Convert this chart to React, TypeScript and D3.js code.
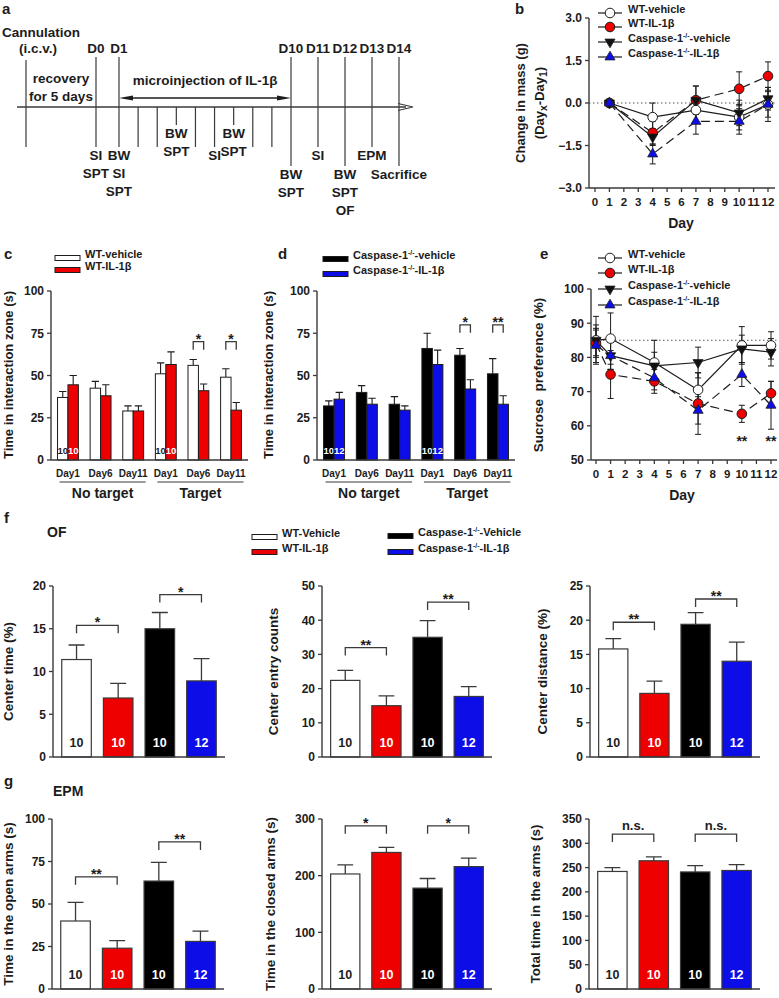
import React from "react";
import * as d3 from "d3";

const FONT = '"Liberation Sans", Arial, Helvetica, sans-serif';
const INK = "#1c1c1c";
const AXIS = "#3a3a3a";
const RED = "#ee0000";
const BLUE = "#0d0de8";

// ---- a: experimental timeline
const timelineDays = [-5, 0, 1, 2, 3, 4, 5, 6, 7, 8, 9, 10, 11, 12, 13, 14];
const dayTitleDays = [0, 1, 10, 11, 12, 13, 14];
const eventDays = [0, 1, 4, 6, 7, 10, 11, 12, 13, 14];
const eventLabels = [
  ["SI", "SPT"], ["BW", "SI", "SPT"], ["BW", "SPT"], ["SI"], ["BW", "SPT"],
  ["BW", "SPT"], ["SI"], ["BW", "SPT", "OF"], ["EPM"], ["Sacrifice"],
];
const eventRows = [1, 1, 0, 1, 0, 2, 1, 2, 1, 2];

// ---- b: change in body mass
const massDays = [1, 4, 7, 10, 12];
const massWtVeh = [0, -0.5, -0.25, -0.5, -0.05];
const massWtVehErr = [0, 0.5, 0.4, 0.45, 0.45];
const massWtIl = [0, -1.05, 0.1, 0.5, 0.95];
const massWtIlErr = [0, 0.4, 0.5, 0.6, 0.5];
const massCaspVeh = [0, -1.2, 0.1, -0.35, 0.15];
const massCaspVehErr = [0, 0.3, 0.5, 0.45, 0.4];
const massCaspIl = [0, -1.8, -0.65, -0.65, -0.05];
const massCaspIlErr = [0, 0.35, 0.45, 0.45, 0.6];

// ---- c / d: social interaction
const siDays = ["Day1", "Day6", "Day11", "Day1", "Day6", "Day11"];
const siConditions = ["No target", "Target"];
const siWtVeh = [37, 42.5, 29, 51, 56, 49];
const siWtVehErr = [3.5, 4, 3, 6.5, 3.5, 5];
const siWtIl = [44.5, 38, 29, 56.5, 41, 29.5];
const siWtIlErr = [5.5, 6.5, 3, 7.5, 4, 4.5];
const siCaspVeh = [32, 40, 33, 66, 62, 51];
const siCaspVehErr = [3, 4, 4.5, 9, 4, 9];
const siCaspIl = [36, 33, 29.5, 56.5, 42, 33];
const siCaspIlErr = [4, 3.5, 2.5, 8.5, 5.5, 5];

// ---- e: sucrose preference
const spDays = [0, 1, 4, 7, 10, 12];
const spWtVeh = [85, 85.5, 78.5, 70.5, 83.5, 83.5];
const spWtVehErr = [4.5, 7.5, 6.5, 5, 5.5, 4];
const spWtIl = [84, 75, 73, 66.5, 63.5, 69.5];
const spWtIlErr = [4, 7, 3.5, 9, 2.5, 3.5];
const spCaspVeh = [85, 80.5, 77.5, 78.5, 82.5, 81.5];
const spCaspVehErr = [7, 4, 4, 4.5, 4, 4];
const spCaspIl = [83.5, 80.5, 74, 64.5, 75, 66];
const spCaspIlErr = [5, 4, 3.5, 4, 3.5, 7];

// ---- f / g: open field and elevated plus maze
const groups = ["WT-Vehicle", "WT-IL-1β", "Caspase-1^-/-^-Vehicle", "Caspase-1^-/-^-IL-1β"];
const groupN = ["10", "10", "10", "12"];
const ofCenterTime = [11.4, 6.9, 15.0, 8.9];
const ofCenterTimeErr = [1.7, 1.7, 1.9, 2.6];
const ofEntries = [22.4, 15.0, 35.0, 17.7];
const ofEntriesErr = [2.9, 2.9, 4.9, 2.9];
const ofDistance = [15.8, 9.3, 19.4, 14.0];
const ofDistanceErr = [1.5, 1.8, 1.7, 2.8];
const epmOpen = [40, 24, 63.5, 28];
const epmOpenErr = [11, 4.5, 11, 6];
const epmClosed = [203, 241, 178, 216];
const epmClosedErr = [16, 9, 17, 15];
const epmTotal = [242, 264, 241, 244];
const epmTotalErr = [8, 8, 13, 12];

const groupFill = ["#ffffff", RED, "#000000", BLUE];
const groupText = [INK, "#ffffff", "#ffffff", "#ffffff"];

// text with ^superscript^ and ~subscript~ parts
function Rich({ text, size }: { text: string; size: number }) {
  const parts = text.split(/(\^[^^]*\^|~[^~]*~)/).filter((p) => p !== "");
  let shift = 0;
  return (
    <>
      {parts.map((p, i) => {
        let target = 0;
        let fs = size;
        let content = p;
        if (p.startsWith("^")) {
          target = -size * 0.4;
          fs = size * 0.62;
          content = p.slice(1, -1);
        } else if (p.startsWith("~")) {
          target = size * 0.2;
          fs = size * 0.8;
          content = p.slice(1, -1);
        }
        const dy = target - shift;
        shift = target;
        return (
          <tspan key={i} dy={dy} fontSize={fs}>
            {content}
          </tspan>
        );
      })}
    </>
  );
}

function YTitle({ x, y, text, size }: { x: number; y: number; text: string; size: number }) {
  return (
    <text transform={`translate(${x},${y}) rotate(-90)`} textAnchor="middle" fontSize={size} dy="0.35em">
      <Rich text={text} size={size} />
    </text>
  );
}

function YAxis({ x, y, ticks, fmt, size = 12 }: any) {
  const [bottom, top] = y.range();
  return (
    <g>
      <line x1={x} x2={x} y1={top} y2={bottom} stroke={AXIS} strokeWidth={1.4} />
      {ticks.map((t: number) => (
        <g key={t}>
          <line x1={x - 4} x2={x} y1={y(t)} y2={y(t)} stroke={AXIS} strokeWidth={1.3} />
          <text x={x - 7} y={y(t)} dy="0.36em" textAnchor="end" fontSize={size}>
            {fmt(t)}
          </text>
        </g>
      ))}
    </g>
  );
}

function Bracket({ x1, x2, y, label }: { x1: number; x2: number; y: number; label: string }) {
  const ns = label === "n.s.";
  return (
    <g>
      <path d={`M${x1},${y + 8}V${y}H${x2}V${y + 8}`} fill="none" stroke={AXIS} strokeWidth={1.3} />
      <text x={(x1 + x2) / 2} y={ns ? y - 4 : y + 2} textAnchor="middle" fontSize={ns ? 13 : 14}>
        {label}
      </text>
    </g>
  );
}

function Timeline() {
  const x = d3.scaleLinear().domain([-5, 0, 1, 10, 14]).range([26, 96, 119, 291, 399]);
  const rowTop = [133, 155, 174];
  const rowTickEnd = [125, 147, 166];
  const axisY = 107;
  return (
    <g fontSize={13.5}>
      <text x={2} y={14} fontSize={15}>a</text>
      <text x={2} y={37}>Cannulation</text>
      <text x={x(-5) + 12} y={53} textAnchor="middle">(i.c.v.)</text>
      {dayTitleDays.map((d) => (
        <text key={d} x={x(d)} y={53} textAnchor="middle">{`D${d}`}</text>
      ))}
      <text x={(x(-5) + x(0)) / 2} y={83} textAnchor="middle">recovery</text>
      <text x={(x(-5) + x(0)) / 2} y={101} textAnchor="middle">for 5 days</text>
      <text x={(x(1) + x(10)) / 2} y={85} textAnchor="middle">microinjection of IL-1β</text>
      <line x1={x(1) + 8} x2={x(10) - 8} y1={98} y2={98} stroke={INK} strokeWidth={1.3} />
      <path d={`M${x(1)},98L${x(1) + 14},95.5L${x(1) + 14},100.5Z`} fill={INK} />
      <path d={`M${x(10)},98L${x(10) - 14},95.5L${x(10) - 14},100.5Z`} fill={INK} />
      <line x1={17} x2={406} y1={axisY} y2={axisY} stroke={AXIS} strokeWidth={1.3} />
      <path d={`M398,103.5L413,${axisY}L398,110.5`} fill="none" stroke={AXIS} strokeWidth={1.2} />
      {timelineDays.map((d) => {
        const ev = eventDays.indexOf(d);
        const top = dayTitleDays.includes(d) ? 57 : d === timelineDays[0] ? 60 : axisY;
        const bottom = ev >= 0 ? rowTickEnd[eventRows[ev]] : 147;
        return <line key={d} x1={x(d)} x2={x(d)} y1={top} y2={bottom} stroke={AXIS} strokeWidth={1.2} />;
      })}
      {eventDays.map((d, i) =>
        eventLabels[i].map((t, j) => (
          <text key={`${d}-${j}`} x={x(d)} y={rowTop[eventRows[i]] + j * 18} dy="0.36em" textAnchor="middle">
            {t}
          </text>
        ))
      )}
    </g>
  );
}

function Marker({ kind, x, y }: { kind: string; x: number; y: number }) {
  if (kind === "open" || kind === "red")
    return <circle cx={x} cy={y} r={4.8} fill={kind === "open" ? "#fff" : RED} stroke={INK} strokeWidth={1} />;
  const p = d3.symbol(d3.symbolTriangle, 44)() as string;
  return (
    <path
      d={p}
      transform={`translate(${x},${y})${kind === "down" ? " rotate(180)" : ""}`}
      fill={kind === "down" ? "#111" : BLUE}
      stroke={INK}
      strokeWidth={0.8}
    />
  );
}

function LinePanel({ x, y, axisX, axisEnd, yTicks, yFmt, refValue, series, legendYs, stars }: any) {
  const axisY = y.range()[0];
  const line = d3.line<[number, number]>().x((d) => x(d[0])).y((d) => y(d[1]));
  return (
    <g>
      <line x1={axisX} x2={axisEnd} y1={y(refValue)} y2={y(refValue)} stroke="#555" strokeWidth={1.1} strokeDasharray="1.5,2.5" />
      {series.map((s: any) =>
        s.days.map((d: number, i: number) => {
          const e = s.errs[i];
          if (!e) return null;
          const cx = x(d);
          return (
            <path
              key={`${s.name}-${d}`}
              d={`M${cx - 3},${y(s.values[i] + e)}H${cx + 3}M${cx},${y(s.values[i] + e)}V${y(s.values[i] - e)}M${cx - 3},${y(s.values[i] - e)}H${cx + 3}`}
              stroke={INK}
              strokeWidth={1}
              fill="none"
            />
          );
        })
      )}
      {series.map((s: any) => (
        <path
          key={s.name}
          d={line(s.days.map((d: number, i: number) => [d, s.values[i]])) as string}
          fill="none"
          stroke={INK}
          strokeWidth={1.2}
          strokeDasharray={s.dashed ? "9,5" : undefined}
        />
      ))}
      {series.map((s: any) =>
        s.days.map((d: number, i: number) => <Marker key={`${s.name}-m${d}`} kind={s.marker} x={x(d)} y={y(s.values[i])} />)
      )}
      {stars.map((st: any) => (
        <text key={st.day} x={x(st.day)} y={st.y} textAnchor="middle" fontSize={14}>
          {st.label}
        </text>
      ))}
      <YAxis x={axisX} y={y} ticks={yTicks} fmt={yFmt} />
      <line x1={axisX} x2={axisEnd} y1={axisY} y2={axisY} stroke={AXIS} strokeWidth={1.4} />
      {x.ticks(12).map((t: number) => (
        <g key={t}>
          <line x1={x(t)} x2={x(t)} y1={axisY} y2={axisY + 4} stroke={AXIS} strokeWidth={1.3} />
          <text x={x(t)} y={axisY + 18} textAnchor="middle" fontSize={11.5}>
            {t}
          </text>
        </g>
      ))}
      {series.map((s: any, i: number) => (
        <g key={`leg-${s.name}`}>
          <line x1={598} x2={622} y1={legendYs[i]} y2={legendYs[i]} stroke={INK} strokeWidth={1.2} />
          <Marker kind={s.marker} x={610} y={legendYs[i]} />
          <text x={628} y={legendYs[i]} dy="0.36em" fontSize={11}>
            <Rich text={s.name} size={11} />
          </text>
        </g>
      ))}
    </g>
  );
}

function makeSeries(names: string[], days: number[], vals: number[][], errs: number[][]) {
  const markers = ["open", "red", "down", "up"];
  return names.map((name, i) => ({ name, days, values: vals[i], errs: errs[i], marker: markers[i], dashed: i % 2 === 1 }));
}

const lineNames = ["WT-vehicle", "WT-IL-1β", "Caspase-1^-/-^-vehicle", "Caspase-1^-/-^-IL-1β"];

function GroupBarPanel({ axisX, axisEnd, names, fills, a, aErr, b, bErr, counts, sig, sigAt, legendX, legendYs, title, titleX }: any) {
  const y = d3.scaleLinear().domain([0, 100]).range([460, 291]);
  const keys = siDays.map((d, i) => `${i}-${d}`);
  const x0 = d3.scaleBand().domain(keys).range([axisX, axisEnd]).paddingInner(0.36).paddingOuter(0.2);
  const x1 = d3.scaleBand().domain(["a", "b"]).range([0, x0.bandwidth()]);
  const bw = x1.bandwidth();
  const series = [
    { id: "a", v: a, e: aErr, fill: fills[0], text: fills[0] === "#ffffff" ? INK : "#fff" },
    { id: "b", v: b, e: bErr, fill: fills[1], text: "#fff" },
  ];
  return (
    <g>
      {names.map((n: string, i: number) => (
        <g key={n}>
          <rect x={legendX} y={legendYs[i] - 2.5} width={25} height={5} fill={fills[i]} stroke={INK} strokeWidth={1} />
          <text x={legendX + 30} y={legendYs[i]} dy="0.36em" fontSize={11}>
            <Rich text={n} size={11} />
          </text>
        </g>
      ))}
      {keys.map((k, gi) =>
        series.map((s) => {
          const bx = (x0(k) as number) + (x1(s.id) as number);
          const top = y(s.v[gi]);
          const et = y(s.v[gi] + s.e[gi]);
          const cx = bx + bw / 2;
          return (
            <g key={`${k}-${s.id}`}>
              <path d={`M${cx},${top}V${et}M${cx - bw * 0.35},${et}H${cx + bw * 0.35}`} stroke={INK} strokeWidth={1.1} />
              <rect x={bx} y={top} width={bw} height={460 - top} fill={s.fill} stroke={INK} strokeWidth={1} />
              {counts[gi] && (
                <text x={cx} y={454} textAnchor="middle" fontSize={9.5} fill={s.text}>
                  {counts[gi][s.id === "a" ? 0 : 1]}
                </text>
              )}
            </g>
          );
        })
      )}
      {sig.map((lab: string, gi: number) =>
        lab ? (
          <Bracket
            key={gi}
            x1={(x0(keys[gi]) as number) + bw / 2}
            x2={(x0(keys[gi]) as number) + bw * 1.5}
            y={y(sigAt)}
            label={lab}
          />
        ) : null
      )}
      <YAxis x={axisX} y={y} ticks={[0, 25, 50, 75, 100]} fmt={(t: number) => String(t)} />
      <line x1={axisX} x2={axisEnd} y1={460} y2={460} stroke={AXIS} strokeWidth={1.4} />
      {keys.map((k, i) => (
        <text key={k} x={(x0(k) as number) + x0.bandwidth() / 2} y={477} textAnchor="middle" fontSize={10}>
          {siDays[i]}
        </text>
      ))}
      {siConditions.map((c, ci) => {
        const first = x0(keys[ci * 3]) as number;
        const last = (x0(keys[ci * 3 + 2]) as number) + x0.bandwidth();
        return (
          <g key={c}>
            <line x1={first + 2} x2={last + 2} y1={482} y2={482} stroke={AXIS} strokeWidth={1.2} />
            <text x={(first + last) / 2 + 2} y={498} textAnchor="middle" fontSize={14}>
              {c}
            </text>
          </g>
        );
      })}
      <YTitle x={titleX} y={375} text={title} size={13} />
    </g>
  );
}

function BarPanel({ axisX, axisEnd, top, bottom, max, ticks, values, errs, sig, sigAt, title, titleX }: any) {
  const x = d3.scaleBand().domain(groups).range([axisX, axisEnd]).paddingInner(0.29).paddingOuter(0.21);
  const y = d3.scaleLinear().domain([0, max]).range([bottom, top]);
  const bw = x.bandwidth();
  return (
    <g>
      {groups.map((g, i) => {
        const bx = x(g) as number;
        const cx = bx + bw / 2;
        const yt = y(values[i]);
        const ye = y(values[i] + errs[i]);
        return (
          <g key={g}>
            <path d={`M${cx},${yt}V${ye}M${cx - bw * 0.27},${ye}H${cx + bw * 0.27}`} stroke={AXIS} strokeWidth={1.3} />
            <rect x={bx} y={yt} width={bw} height={bottom - yt} fill={groupFill[i]} stroke={AXIS} strokeWidth={1.2} />
            <text x={cx} y={bottom - 10} textAnchor="middle" fontSize={12.5} fill={groupText[i]}>
              {groupN[i]}
            </text>
          </g>
        );
      })}
      {[0, 1].map((p) => {
        const c1 = (x(groups[p * 2]) as number) + bw / 2;
        const c2 = (x(groups[p * 2 + 1]) as number) + bw / 2;
        return <Bracket key={p} x1={c1} x2={c2} y={y(sigAt[p])} label={sig[p]} />;
      })}
      <YAxis x={axisX} y={y} ticks={ticks} fmt={(t: number) => String(t)} />
      <line x1={axisX} x2={axisEnd} y1={bottom} y2={bottom} stroke={AXIS} strokeWidth={1.4} />
      <YTitle x={titleX} y={(top + bottom) / 2} text={title} size={13.5} />
    </g>
  );
}

export default function App() {
  const bx = d3.scaleLinear().domain([0, 12]).range([595, 768]);
  const by = d3.scaleLinear().domain([-3, 3]).range([188, 18]);
  const ex = d3.scaleLinear().domain([0, 12]).range([596, 771]);
  const ey = d3.scaleLinear().domain([50, 100]).range([460, 289]);
  const massSeries = makeSeries(
    lineNames,
    massDays,
    [massWtVeh, massWtIl, massCaspVeh, massCaspIl],
    [massWtVehErr, massWtIlErr, massCaspVehErr, massCaspIlErr]
  );
  const spSeries = makeSeries(
    lineNames,
    spDays,
    [spWtVeh, spWtIl, spCaspVeh, spCaspIl],
    [spWtVehErr, spWtIlErr, spCaspVehErr, spCaspIlErr]
  );
  return (
    <svg
      width={779}
      height={998}
      style={{ position: "absolute", left: 0, top: 0, background: "#fff" }}
      fontFamily={FONT}
      fontWeight="bold"
      fill={INK}
    >
      <Timeline />

      {/* b */}
      <text x={515} y={14} fontSize={15}>b</text>
      <YTitle x={525} y={103} text="Change in mass (g)" size={13} />
      <YTitle x={544} y={103} text="(Day~x~-Day~1~)" size={13} />
      <LinePanel
        x={bx}
        y={by}
        axisX={589}
        axisEnd={775}
        yTicks={[-3, -1.5, 0, 1.5, 3]}
        yFmt={d3.format(".1f")}
        refValue={0}
        series={massSeries}
        legendYs={[13, 27, 42, 57]}
        stars={[]}
      />
      <text x={681} y={228} textAnchor="middle" fontSize={14}>Day</text>

      {/* c */}
      <text x={4} y={259} fontSize={15}>c</text>
      <GroupBarPanel
        axisX={51}
        axisEnd={248}
        names={["WT-vehicle", "WT-IL-1β"]}
        fills={["#ffffff", RED]}
        a={siWtVeh}
        aErr={siWtVehErr}
        b={siWtIl}
        bErr={siWtIlErr}
        counts={[["10", "10"], null, null, ["10", "10"], null, null]}
        sig={["", "", "", "", "*", "*"]}
        sigAt={70}
        legendX={55}
        legendYs={[258, 270]}
        title="Time in interaction zone (s)"
        titleX={13}
      />

      {/* d */}
      <text x={278} y={259} fontSize={15}>d</text>
      <GroupBarPanel
        axisX={317}
        axisEnd={515}
        names={["Caspase-1^-/-^-vehicle", "Caspase-1^-/-^-IL-1β"]}
        fills={["#000000", BLUE]}
        a={siCaspVeh}
        aErr={siCaspVehErr}
        b={siCaspIl}
        bErr={siCaspIlErr}
        counts={[["10", "12"], null, null, ["10", "12"], null, null]}
        sig={["", "", "", "", "*", "**"]}
        sigAt={80}
        legendX={323}
        legendYs={[259, 274]}
        title="Time in interaction zone (s)"
        titleX={273}
      />

      {/* e */}
      <text x={540} y={259} fontSize={15}>e</text>
      <LinePanel
        x={ex}
        y={ey}
        axisX={591}
        axisEnd={777}
        yTicks={[50, 60, 70, 80, 90, 100]}
        yFmt={(t: number) => String(t)}
        refValue={85}
        series={spSeries}
        legendYs={[258, 273, 289, 305]}
        stars={[
          { day: 10, y: 446, label: "**" },
          { day: 12, y: 446, label: "**" },
        ]}
      />
      <text x={682} y={500} textAnchor="middle" fontSize={14}>Day</text>
      <YTitle x={543} y={375} text={"Sucrose\u00a0 preference (%)"} size={13.5} />

      {/* f legend */}
      <text x={4} y={523} fontSize={15}>f</text>
      <text x={47} y={537} fontSize={14}>OF</text>
      {groups.map((g, i) => {
        const lx = i < 2 ? 252 : 388;
        const ly = i % 2 === 0 ? (i < 2 ? 537 : 536) : 552;
        return (
          <g key={g}>
            <rect x={lx} y={ly - 2.5} width={25} height={5} fill={groupFill[i]} stroke={INK} strokeWidth={1} />
            <text x={lx + 30} y={ly} dy="0.36em" fontSize={11}>
              <Rich text={g} size={11} />
            </text>
          </g>
        );
      })}

      <BarPanel axisX={53} axisEnd={225} top={586} bottom={757} max={20} ticks={[0, 5, 10, 15, 20]}
        values={ofCenterTime} errs={ofCenterTimeErr} sig={["*", "*"]} sigAt={[15.4, 19]} title="Center time (%)" titleX={13} />
      <BarPanel axisX={322} axisEnd={492} top={586} bottom={757} max={50} ticks={[0, 10, 20, 30, 40, 50]}
        values={ofEntries} errs={ofEntriesErr} sig={["**", "**"]} sigAt={[32, 45.3]} title="Center entry counts" titleX={278} />
      <BarPanel axisX={590} axisEnd={760} top={586} bottom={757} max={25} ticks={[0, 5, 10, 15, 20, 25]}
        values={ofDistance} errs={ofDistanceErr} sig={["**", "**"]} sigAt={[19.7, 23.1]} title="Center distance (%)" titleX={547} />

      {/* g */}
      <text x={4} y={786} fontSize={15}>g</text>
      <text x={53} y={796} fontSize={14}>EPM</text>
      <BarPanel axisX={52} axisEnd={224} top={819} bottom={989} max={100} ticks={[0, 25, 50, 75, 100]}
        values={epmOpen} errs={epmOpenErr} sig={["**", "**"]} sigAt={[66, 86.5]} title="Time in the open arms (s)" titleX={13} />
      <BarPanel axisX={322} axisEnd={492} top={819} bottom={989} max={300} ticks={[0, 100, 200, 300]}
        values={epmClosed} errs={epmClosedErr} sig={["*", "*"]} sigAt={[288, 288]} title="Time in the closed arms (s)" titleX={275} />
      <BarPanel axisX={589} axisEnd={760} top={819} bottom={989} max={350} ticks={[0, 50, 100, 150, 200, 250, 300, 350]}
        values={epmTotal} errs={epmTotalErr} sig={["n.s.", "n.s."]} sigAt={[319, 319]} title="Total time in the arms (s)" titleX={540} />
    </svg>
  );
}
